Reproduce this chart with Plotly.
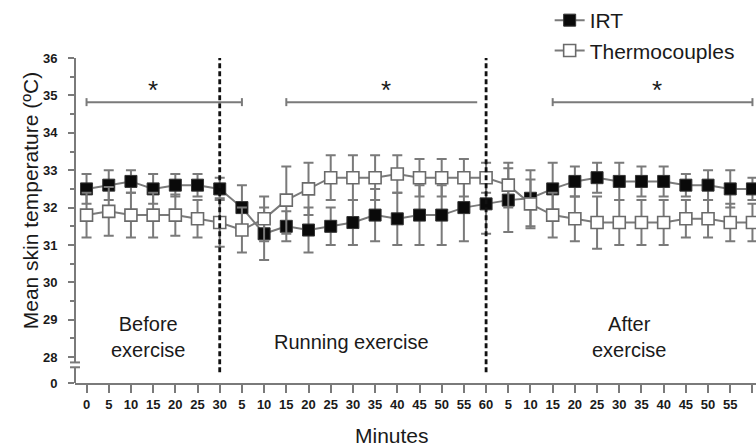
import plotly.graph_objects as go

# ---------------- data ----------------
x_index = list(range(31))
x_ticktext = ["0", "5", "10", "15", "20", "25", "30",
              "5", "10", "15", "20", "25", "30", "35", "40", "45", "50", "55", "60",
              "5", "10", "15", "20", "25", "30", "35", "40", "45", "50", "55", "60"]

irt_mean = [32.5, 32.6, 32.7, 32.5, 32.6, 32.6, 32.5, 32.0, 31.3, 31.5, 31.4,
            31.5, 31.6, 31.8, 31.7, 31.8, 31.8, 32.0, 32.1, 32.2, 32.25,
            32.5, 32.7, 32.8, 32.7, 32.7, 32.7, 32.6, 32.6, 32.5, 32.5]
irt_sd = [0.4, 0.4, 0.3, 0.4, 0.3, 0.3, 0.3, 0.6, 0.7, 0.4, 0.6,
          0.5, 0.6, 0.7, 0.7, 0.8, 0.8, 0.9, 0.8, 0.85, 0.75,
          0.7, 0.4, 0.4, 0.5, 0.4, 0.4, 0.3, 0.4, 0.5, 0.3]

thermo_mean = [31.8, 31.9, 31.8, 31.8, 31.8, 31.7, 31.6, 31.4, 31.7, 32.2, 32.5,
               32.8, 32.8, 32.8, 32.9, 32.8, 32.8, 32.8, 32.8, 32.6, 32.1,
               31.8, 31.7, 31.6, 31.6, 31.6, 31.6, 31.7, 31.7, 31.6, 31.6]
thermo_sd = [0.6, 0.65, 0.6, 0.6, 0.55, 0.5, 0.65, 0.6, 0.6, 0.9, 0.7,
             0.6, 0.6, 0.6, 0.5, 0.5, 0.5, 0.5, 0.4, 0.6, 0.65,
             0.6, 0.6, 0.7, 0.6, 0.6, 0.6, 0.5, 0.5, 0.5, 0.5]

y_major = [28, 29, 30, 31, 32, 33, 34, 35, 36]
y_break_value = 27.31      # position of the "0" label on the broken axis
phase_bounds = [6, 18]     # dashed separators (index)
sig_starts = [0, 9, 21]
sig_ends = [7, 17.6, 30]
sig_right_cap = [True, False, True]
sig_star_x = [3, 13.5, 25.7]
sig_level = 34.82

phase_labels = ["Before<br>exercise", "Running exercise", "After<br>exercise"]

# ---------------- styling ----------------
FONT = "Liberation Sans, Arial, sans-serif"
TXT = "#1a1a1a"
GREY = "#7a7a7a"

fig = go.Figure()

fig.add_trace(go.Scatter(
    x=x_index, y=irt_mean, name="IRT", mode="lines+markers",
    line=dict(color=GREY, width=2),
    marker=dict(symbol="square", size=12, color="#0a0a0a",
                line=dict(color="#333333", width=1)),
    error_y=dict(type="data", array=irt_sd, visible=True,
                 color=GREY, thickness=2, width=5),
    cliponaxis=False,
))
fig.add_trace(go.Scatter(
    x=x_index, y=thermo_mean, name="Thermocouples", mode="lines+markers",
    line=dict(color=GREY, width=2),
    marker=dict(symbol="square", size=12, color="white",
                line=dict(color="#6a6a6a", width=1.6)),
    error_y=dict(type="data", array=thermo_sd, visible=True,
                 color=GREY, thickness=2, width=5),
    cliponaxis=False,
))

shapes = []
# broken y axis
y_top = max(y_major)
shapes.append(dict(type="line", xref="paper", yref="y", x0=0, x1=0,
                   y0=27.86, y1=y_top, line=dict(color=GREY, width=2)))
shapes.append(dict(type="line", xref="paper", yref="y", x0=0, x1=0,
                   y0=y_break_value, y1=27.73, line=dict(color=GREY, width=2)))
for yv in [27.86, 27.73]:
    shapes.append(dict(type="line", xref="paper", yref="y",
                       xsizemode="pixel", xanchor=0, x0=-5, x1=5,
                       y0=yv, y1=yv, line=dict(color=GREY, width=2)))
# dashed phase separators
for b in phase_bounds:
    shapes.append(dict(type="line", xref="x", yref="y", x0=b, x1=b,
                       y0=27.6, y1=36.05,
                       line=dict(color="#111111", width=2.8, dash="5px,3px")))
# significance brackets
for s, e, rc in zip(sig_starts, sig_ends, sig_right_cap):
    shapes.append(dict(type="line", xref="x", yref="y", x0=s, x1=e,
                       y0=sig_level, y1=sig_level,
                       line=dict(color=GREY, width=2)))
    caps = [s, e] if rc else [s]
    for c in caps:
        shapes.append(dict(type="line", xref="x", yref="y",
                           ysizemode="pixel", yanchor=sig_level, y0=-4, y1=4,
                           x0=c, x1=c, line=dict(color=GREY, width=2)))

annotations = []
for sx in sig_star_x:
    annotations.append(dict(x=sx, y=sig_level, xref="x", yref="y",
                            text="*", showarrow=False, yanchor="bottom",
                            yshift=-5,
                            font=dict(family=FONT, size=26, color=TXT)))
# phase labels
annotations.append(dict(x=2.75, y=28.55, xref="x", yref="y", text=phase_labels[0],
                        showarrow=False, font=dict(family=FONT, size=20, color=TXT)))
annotations.append(dict(x=11.95, y=28.4, xref="x", yref="y", text=phase_labels[1],
                        showarrow=False, font=dict(family=FONT, size=20, color=TXT)))
annotations.append(dict(x=24.45, y=28.55, xref="x", yref="y", text=phase_labels[2],
                        showarrow=False, font=dict(family=FONT, size=20, color=TXT)))
# axis titles
annotations.append(dict(x=-0.084, y=0.56, xref="paper", yref="paper",
                        text="Mean skin temperature (ºC)", textangle=-90,
                        showarrow=False, font=dict(family=FONT, size=21, color=TXT)))
annotations.append(dict(x=0.465, y=-0.163, xref="paper", yref="paper",
                        text="Minutes", showarrow=False, yanchor="middle",
                        font=dict(family=FONT, size=21, color=TXT)))

fig.update_layout(
    width=756, height=447,
    margin=dict(l=75, r=0, t=56, b=64),
    plot_bgcolor="white", paper_bgcolor="white",
    shapes=shapes, annotations=annotations,
    showlegend=True,
    legend=dict(x=0.697, y=1.18, xanchor="left", yanchor="top",
                bgcolor="rgba(0,0,0,0)",
                font=dict(family=FONT, size=21, color=TXT),
                tracegroupgap=0, itemwidth=30),
    xaxis=dict(range=[-0.52, 30.16], showgrid=False, zeroline=False,
               showline=True, linecolor=GREY, linewidth=2,
               ticks="outside", ticklen=8, tickwidth=2, tickcolor=GREY,
               tickvals=x_index, ticktext=x_ticktext,
               tickfont=dict(family=FONT, size=13, color=TXT, weight="bold")),
    yaxis=dict(range=[y_break_value, 36], showgrid=False, zeroline=False,
               showline=False,
               ticks="outside", ticklen=6, tickwidth=2, tickcolor=GREY,
               tickvals=[y_break_value] + y_major,
               ticktext=["0"] + [str(v) for v in y_major],
               ticklabelstandoff=8,
               tickfont=dict(family=FONT, size=13, color=TXT, weight="bold"),
               minor=dict(tickvals=[v + 0.5 for v in y_major[:-1]],
                          ticks="outside", ticklen=4, tickwidth=2, tickcolor=GREY)),
)

fig.write_html("out.html")
